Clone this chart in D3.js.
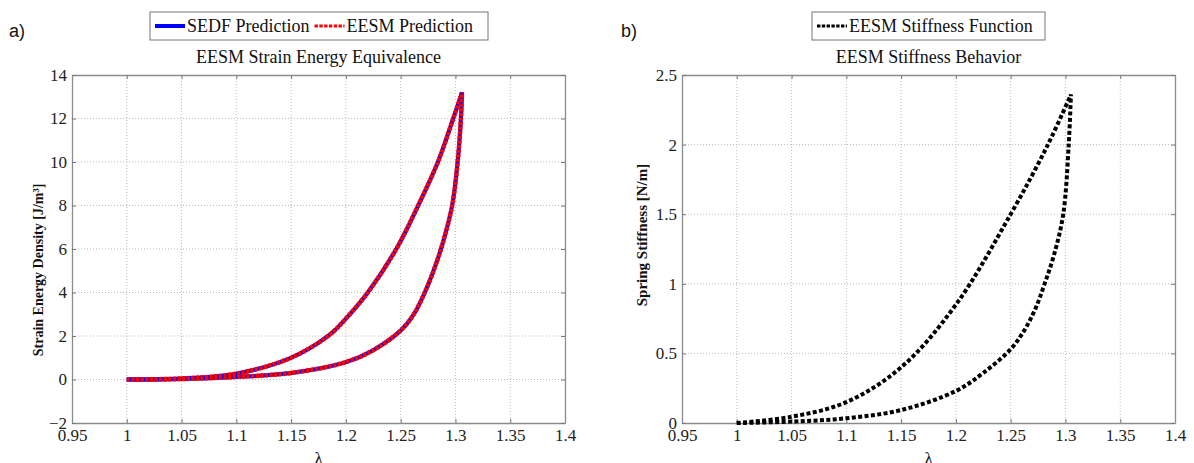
<!DOCTYPE html>
<html>
<head>
<meta charset="utf-8">
<script src="https://cdn.jsdelivr.net/npm/d3@7"></script>
<style>
  body { margin: 0; background: #fff; }
  svg text { font-family: "Liberation Serif", serif; }
</style>
</head>
<body>
<div id="chart"></div>
<script>
// ---------------- data ----------------
var xTicks = [0.95, 1, 1.05, 1.1, 1.15, 1.2, 1.25, 1.3, 1.35, 1.4];
var yTicksA = [-2, 0, 2, 4, 6, 8, 10, 12, 14];
var yTicksB = [0, 0.5, 1, 1.5, 2, 2.5];

// panel a: strain energy density, upper and lower branch (lambda = 1 up to the peak)
var lamUpA = [1.0, 1.05, 1.1, 1.15, 1.185, 1.2, 1.22, 1.246, 1.266, 1.284, 1.298, 1.306];
var sedUpA = [0, 0.05, 0.27, 1.0, 2.05, 2.8, 4.0, 6.0, 8.0, 10.0, 12.0, 13.2];
var lamLowA = [1.0, 1.05, 1.1, 1.15, 1.2, 1.225, 1.25, 1.262, 1.272, 1.28, 1.288, 1.297, 1.302, 1.305, 1.306];
var sedLowA = [0, 0.02, 0.12, 0.3, 0.8, 1.35, 2.25, 3.0, 4.0, 5.0, 6.2, 8.0, 10.0, 12.0, 13.2];

// panel b: spring stiffness
var lamUpB = [1.0, 1.05, 1.1, 1.15, 1.2, 1.25, 1.284, 1.305];
var kUpB = [0, 0.045, 0.15, 0.40, 0.85, 1.5, 2.0, 2.36];
var lamLowB = [1.0, 1.05, 1.1, 1.15, 1.2, 1.225, 1.25, 1.262, 1.272, 1.281, 1.29, 1.298, 1.303, 1.305];
var kLowB = [0, 0.01, 0.034, 0.093, 0.23, 0.36, 0.53, 0.66, 0.81, 1.0, 1.22, 1.5, 2.0, 2.36];

// ---------------- layout ----------------
var W = 1194, H = 463;
var serif = '"Liberation Serif", serif';
var svg = d3.select("#chart").append("svg")
    .attr("width", W).attr("height", H);
svg.append("rect").attr("width", W).attr("height", H).attr("fill", "#fff");

function zip(xs, ys) { return xs.map(function(d, i) { return [d, ys[i]]; }); }

function drawPanel(o) {
  var x = d3.scaleLinear().domain([0.95, 1.4]).range([o.left, o.right]);
  var y = d3.scaleLinear().domain(o.yDomain).range([o.bottom, o.top]);
  var g = svg.append("g");

  // grid
  g.selectAll(".gx").data(xTicks.slice(1, -1)).enter().append("line")
    .attr("x1", function(d){ return x(d); }).attr("x2", function(d){ return x(d); })
    .attr("y1", o.top).attr("y2", o.bottom)
    .attr("stroke", "#bdbdbd").attr("stroke-width", 1).attr("stroke-dasharray", "1,2");
  g.selectAll(".gy").data(o.yTicks.slice(1, -1)).enter().append("line")
    .attr("y1", function(d){ return y(d); }).attr("y2", function(d){ return y(d); })
    .attr("x1", o.left).attr("x2", o.right)
    .attr("stroke", "#bdbdbd").attr("stroke-width", 1).attr("stroke-dasharray", "1,2");

  // axes with inward ticks on all sides
  var ax = [
    { a: d3.axisBottom(x), t: o.bottom, h: true },
    { a: d3.axisTop(x), t: o.top, h: true },
    { a: d3.axisLeft(y), t: o.left, h: false },
    { a: d3.axisRight(y), t: o.right, h: false }
  ];
  ax.forEach(function(s, i) {
    s.a.tickValues(s.h ? xTicks : o.yTicks).tickSizeInner(-4).tickSizeOuter(0)
       .tickFormat(i === 0 || i === 2 ? d3.format("") : "");
    var gg = g.append("g")
      .attr("transform", s.h ? "translate(0," + s.t + ")" : "translate(" + s.t + ",0)")
      .call(s.a)
      .attr("font-family", serif).attr("font-size", 17);
    gg.select(".domain").attr("stroke", "#8c8c8c").attr("stroke-width", 1.3);
    gg.selectAll(".tick line").attr("stroke", "#777");
    gg.selectAll(".tick text").attr("fill", "#222")
      .style("font-family", serif).style("font-size", "17px");
    if (i === 0) gg.selectAll(".tick text").attr("y", 6);
    if (i === 2) gg.selectAll(".tick text").attr("x", -5);
  });

  // curves
  var line = d3.line()
    .x(function(d){ return x(d[0]); })
    .y(function(d){ return y(d[1]); })
    .curve(d3.curveCatmullRom.alpha(0.5));
  o.series.forEach(function(s) {
    o.styles.forEach(function(st) {
      g.append("path").datum(s).attr("d", line)
        .attr("fill", "none").attr("stroke", st.color)
        .attr("stroke-width", st.width)
        .attr("stroke-dasharray", st.dash || null)
        .attr("stroke-linejoin", "round");
    });
  });

  // title and labels
  var cx = (o.left + o.right) / 2;
  g.append("text").attr("x", cx).attr("y", 63).attr("text-anchor", "middle")
    .style("font-family", serif).style("font-size", "18px").attr("fill", "#111").text(o.title);
  g.append("text").attr("x", cx).attr("y", 464).attr("text-anchor", "middle")
    .style("font-family", serif).style("font-size", "17px").attr("fill", "#111").text("\u03bb");
  g.append("text")
    .attr("transform", "translate(" + o.yLabelX + "," + o.yLabelY + ") rotate(-90)")
    .attr("text-anchor", "middle").style("font-family", serif)
    .style("font-size", o.yLabelSize).style("font-weight", "bold")
    .attr("fill", "#111").text(o.yLabel);
  g.append("text").attr("x", o.tagX).attr("y", 37)
    .style("font-family", '"Liberation Sans", Arial, sans-serif').style("font-size", "18px")
    .attr("fill", "#111").text(o.tag);

  // legend
  var lg = g.append("g");
  lg.append("rect").attr("x", o.legX).attr("y", 12).attr("width", o.legW).attr("height", 28)
    .attr("fill", "#fff").attr("stroke", "#777").attr("stroke-width", 1);
  var lx = o.legX + 5;
  o.legend.forEach(function(it) {
    it.styles.forEach(function(st) {
      lg.append("line").attr("x1", lx).attr("x2", lx + 30).attr("y1", 26).attr("y2", 26)
        .attr("stroke", st.color).attr("stroke-width", st.width)
        .attr("stroke-dasharray", st.dash || null);
    });
    var t = lg.append("text").attr("x", lx + 32).attr("y", 32)
      .style("font-family", serif).style("font-size", "18px").attr("fill", "#111").text(it.label);
    lx += 32 + t.node().getComputedTextLength() + 5;
  });
}

var blueSolid = { color: "#0000ff", width: 4 };
var redDash = { color: "#ff0000", width: 4.5, dash: "3.4,1.2" };
var blackDash = { color: "#000", width: 4, dash: "4,2.4" };

drawPanel({
  left: 72, right: 565, top: 75, bottom: 423,
  yDomain: [-2, 14], yTicks: yTicksA,
  series: [zip(lamUpA, sedUpA), zip(lamLowA, sedLowA)],
  styles: [blueSolid, redDash],
  title: "EESM Strain Energy Equivalence",
  yLabel: "Strain Energy Density [J/m\u00b3]", yLabelX: 43, yLabelY: 270, yLabelSize: "14px",
  tag: "a)", tagX: 9,
  legX: 150, legW: 338,
  legend: [{ label: "SEDF Prediction", styles: [blueSolid] },
           { label: "EESM Prediction", styles: [{ color: "#ff0000", width: 3, dash: "3.4,1.4" }] }]
});

drawPanel({
  left: 682, right: 1175, top: 75, bottom: 423,
  yDomain: [0, 2.5], yTicks: yTicksB,
  series: [zip(lamUpB, kUpB), zip(lamLowB, kLowB)],
  styles: [blackDash],
  title: "EESM Stiffness Behavior",
  yLabel: "Spring Stiffness [N/m]", yLabelX: 647, yLabelY: 235, yLabelSize: "15px",
  tag: "b)", tagX: 621,
  legX: 812, legW: 233,
  legend: [{ label: "EESM Stiffness Function", styles: [{ color: "#000", width: 3, dash: "3.4,1.4" }] }]
});
</script>
</body>
</html>
